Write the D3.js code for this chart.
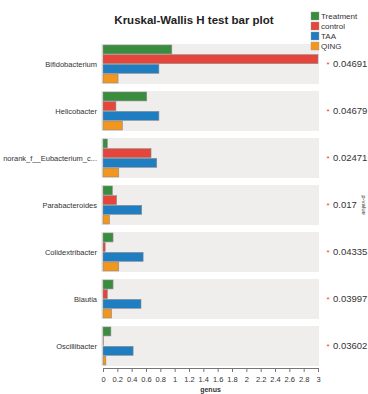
<!DOCTYPE html>
<html>
<head>
<meta charset="utf-8">
<script src="https://cdn.jsdelivr.net/npm/d3@7"></script>
<style>
  body { margin: 0; background: #fff; }
  svg { font-family: "Liberation Sans", Arial, sans-serif; }
</style>
</head>
<body>
<script>
// data
var genera = ['Bifidobacterium', 'Helicobacter', 'norank_f__Eubacterium_c...', 'Parabacteroides',
              'Colidextribacter', 'Blautia', 'Oscillibacter'];
var groups = ['Treatment', 'control', 'TAA', 'QING'];
var treatment = [0.96, 0.61, 0.06, 0.13, 0.14, 0.14, 0.11];
var control   = [3.0, 0.18, 0.67, 0.19, 0.03, 0.06, 0.005];
var taa       = [0.78, 0.78, 0.75, 0.54, 0.56, 0.53, 0.42];
var qing      = [0.21, 0.27, 0.22, 0.09, 0.22, 0.12, 0.04];
var pvalues   = ['0.04691', '0.04679', '0.02471', '0.017', '0.04335', '0.03997', '0.03602'];
var xTicks    = [0, 0.2, 0.4, 0.6, 0.8, 1, 1.2, 1.4, 1.6, 1.8, 2, 2.2, 2.4, 2.6, 2.8, 3];
var colors    = ['#3a8d3e', '#e5453b', '#1f7dc2', '#f2961e'];

var seriesList = [treatment, control, taa, qing];

var width = 368, height = 394;

var svg = d3.select('body').append('svg')
    .attr('width', width)
    .attr('height', height);

// scales
var x = d3.scaleLinear().domain([0, 3]).range([103, 318]);
var y = d3.scaleBand().domain(genera).range([44, 366]).paddingInner(0.149).paddingOuter(0);
var yInner = d3.scaleBand().domain(groups).range([1, y.bandwidth() - 1]).paddingInner(0.08);
var color = d3.scaleOrdinal().domain(groups).range(colors);

// title
svg.append('text')
    .attr('x', 194)
    .attr('y', 24)
    .attr('text-anchor', 'middle')
    .attr('font-size', '11.5px')
    .attr('font-weight', 'bold')
    .style('fill', '#222')
    .text('Kruskal-Wallis H test bar plot');

// panel backgrounds
svg.selectAll('.panel')
    .data(genera)
    .enter().append('rect')
    .attr('class', 'panel')
    .attr('x', x(0) - 2)
    .attr('y', function(d) { return y(d); })
    .attr('width', x(3) - x(0) + 3)
    .attr('height', y.bandwidth())
    .style('fill', '#efeeec');

// bars
var rows = svg.selectAll('.row')
    .data(genera)
    .enter().append('g')
    .attr('class', 'row')
    .attr('transform', function(d) { return 'translate(0,' + y(d) + ')'; });

rows.selectAll('rect.bar')
    .data(function(d, i) {
        return groups.map(function(g, j) { return {group: g, value: seriesList[j][i]}; });
    })
    .enter().append('rect')
    .attr('class', 'bar')
    .attr('x', x(0))
    .attr('y', function(d) { return yInner(d.group); })
    .attr('width', function(d) { return x(d.value) - x(0); })
    .attr('height', yInner.bandwidth())
    .style('fill', function(d) { return color(d.group); })
    .style('stroke', '#8a8a8a')
    .style('stroke-width', 0.6);

// genus labels
rows.append('text')
    .attr('x', 97)
    .attr('y', y.bandwidth() / 2)
    .attr('dy', '0.35em')
    .attr('text-anchor', 'end')
    .attr('font-size', '7.5px')
    .style('fill', '#333')
    .text(function(d) { return d; });

// significance stars and p values
rows.append('text')
    .attr('x', 328)
    .attr('y', y.bandwidth() / 2 + 3)
    .attr('text-anchor', 'middle')
    .attr('font-size', '8px')
    .style('fill', '#e5453b')
    .text('*');

rows.append('text')
    .attr('x', 333)
    .attr('y', y.bandwidth() / 2)
    .attr('dy', '0.35em')
    .attr('font-size', '9.5px')
    .style('fill', '#333')
    .text(function(d, i) { return pvalues[i]; });

// x axis
var xAxis = svg.append('g')
    .attr('transform', 'translate(0,368)')
    .call(d3.axisBottom(x).tickValues(xTicks).tickSize(4).tickFormat(d3.format('~g')));
xAxis.select('.domain').style('stroke', '#777');
xAxis.selectAll('.tick line').style('stroke', '#777');
xAxis.selectAll('.tick text')
    .attr('font-size', '7.5px')
    .attr('font-family', '"Liberation Sans", Arial, sans-serif')
    .attr('dy', '0.9em')
    .style('fill', '#333');

svg.append('text')
    .attr('x', x(1.5))
    .attr('y', 392)
    .attr('text-anchor', 'middle')
    .attr('font-size', '7px')
    .attr('font-weight', 'bold')
    .style('fill', '#333')
    .text('genus');

// p-value axis label at the right edge
svg.append('text')
    .attr('transform', 'translate(362,205) rotate(90)')
    .attr('text-anchor', 'middle')
    .attr('font-size', '6px')
    .style('fill', '#333')
    .text('p-value');

// legend
var legend = svg.selectAll('.legend')
    .data(groups)
    .enter().append('g')
    .attr('class', 'legend')
    .attr('transform', function(d, i) { return 'translate(311,' + (12 + i * 10) + ')'; });

legend.append('rect')
    .attr('width', 8)
    .attr('height', 8)
    .style('fill', function(d) { return color(d); })
    .style('stroke', '#999')
    .style('stroke-width', 0.4);

legend.append('text')
    .attr('x', 10)
    .attr('y', 4)
    .attr('dy', '0.35em')
    .attr('font-size', '8px')
    .style('fill', '#333')
    .text(function(d) { return d; });
</script>
</body>
</html>
